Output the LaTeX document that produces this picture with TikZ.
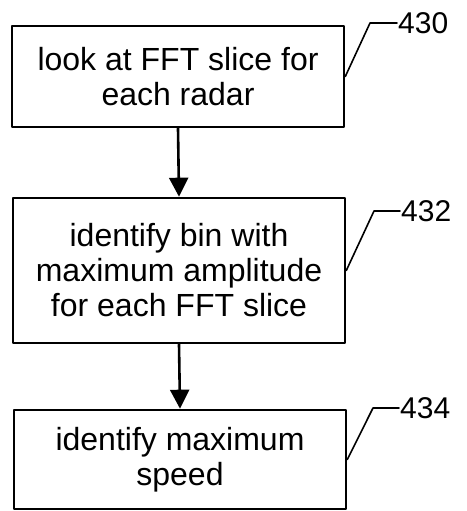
\documentclass[tikz,border=0pt]{standalone}
\usepackage{fontspec}
\setmainfont{Liberation Sans}
\usepackage{tikz}
\usetikzlibrary{arrows.meta}
\tikzset{>={Triangle[width=19pt,length=19pt]}}

\begin{document}
\begin{tikzpicture}[x=1pt, y=-1pt,
                    line cap=round, line join=round,
                    stepbox/.style={draw, line width=2.6pt, minimum width=332pt,
                                    align=center, inner sep=0pt,
                                    font=\fontsize{32}{35}\selectfont},
                    flow/.style={->, line width=2.6pt},
                    leader/.style={line width=1.6pt},
                    refnum/.style={anchor=west, inner sep=1pt,
                                   font=\fontsize{30}{34}\selectfont}]
  % fixes the page to the size of the reference
  \useasboundingbox (0,0) rectangle (466,511);

% Caixas do fluxograma
  \node[stepbox, minimum height=101pt] (look) at (178,76.5)
    {look at FFT slice for\\each radar};
  \node[stepbox, minimum height=145pt] (bin) at (179,270.5)
    {identify bin with\\maximum amplitude\\for each FFT slice};
  \node[stepbox, minimum height=99pt] (speed) at (180,459.5)
    {identify maximum\\speed};

% Setas entre as caixas
  \draw[flow] (look.south) -- (bin.north);
  \draw[flow] (bin.south) -- (speed.north);

% Numeros de referencia
  \coordinate (k430) at (370,23);
  \coordinate (k432) at (374,211);
  \coordinate (k434) at (373,408);
  \node[refnum] (n430) at (397,23) {430};
  \node[refnum] (n432) at (400,211) {432};
  \node[refnum] (n434) at (399,408) {434};
  \draw[leader] (look.east) -- (k430) -- (n430.west);
  \draw[leader] (bin.east) -- (k432) -- (n432.west);
  \draw[leader] (speed.east) -- (k434) -- (n434.west);
\end{tikzpicture}
\end{document}
